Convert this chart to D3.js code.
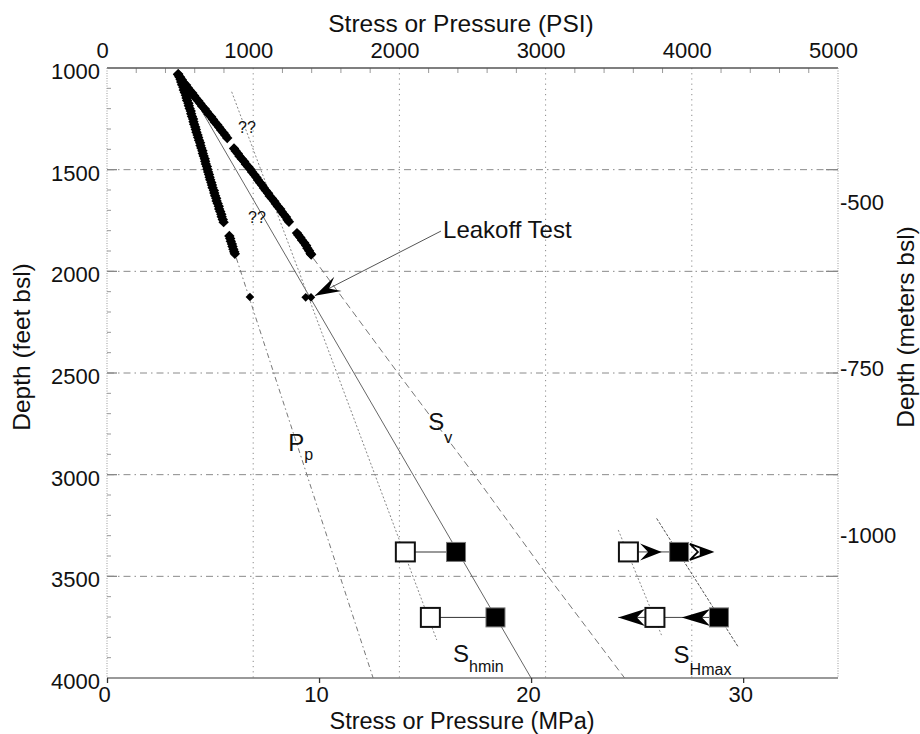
<!DOCTYPE html>
<html>
<head>
<meta charset="utf-8">
<script src="https://cdn.jsdelivr.net/npm/d3@7"></script>
<style>
  body { margin: 0; background: #fff; }
  svg text { font-family: "Liberation Sans", Arial, Helvetica, sans-serif; fill: #111; }
</style>
</head>
<body>
<svg id="chart" width="920" height="734"></svg>
<script>
// axis ticks
const psiTicks = [0, 1000, 2000, 3000, 4000, 5000];
const mpaTicks = [0, 10, 20, 30];
const feetTicks = [1000, 1500, 2000, 2500, 3000, 3500, 4000];
const meterTicks = [-500, -750, -1000];

// log points, [depth (ft), stress (MPa)]
const lowerTrend = [
  [1030,3.36],[1043,3.41],[1056,3.47],[1069,3.50],[1082,3.54],[1095,3.60],[1108,3.62],[1121,3.67],
  [1134,3.72],[1147,3.75],[1160,3.78],[1173,3.84],[1186,3.86],[1199,3.90],[1212,3.95],[1225,3.97],
  [1238,4.01],[1251,4.06],[1264,4.08],[1277,4.11],[1290,4.16],[1303,4.19],[1316,4.22],[1329,4.27],
  [1342,4.30],[1355,4.34],[1368,4.39],[1381,4.41],[1394,4.45],[1407,4.50],[1420,4.52],[1433,4.56],
  [1446,4.61],[1459,4.63],[1472,4.66],[1485,4.71],[1498,4.73],[1511,4.77],[1524,4.81],[1537,4.84],
  [1550,4.87],[1563,4.92],[1576,4.95],[1589,4.98],[1602,5.04],[1615,5.06],[1628,5.10],[1641,5.15],
  [1654,5.17],[1667,5.22],[1680,5.27],[1693,5.29],[1706,5.34],[1719,5.39],[1732,5.41],[1745,5.46],
  [1758,5.50],
  [1826,5.77],[1839,5.81],[1852,5.84],[1865,5.89],[1878,5.92],[1891,5.96],[1904,6.00],[1914,6.03]
];
const upperTrend = [
  [1032,3.35],[1045,3.45],[1058,3.53],[1071,3.61],[1084,3.73],[1097,3.81],[1110,3.90],[1123,4.02],
  [1136,4.11],[1149,4.19],[1162,4.31],[1175,4.40],[1188,4.49],[1201,4.61],[1214,4.70],[1227,4.79],
  [1240,4.91],[1253,5.00],[1266,5.08],[1279,5.20],[1292,5.29],[1305,5.38],[1318,5.49],[1331,5.58],
  [1344,5.67],
  [1396,5.99],[1408,6.07],[1421,6.17],[1434,6.25],[1447,6.36],[1460,6.47],[1473,6.55],[1486,6.66],[1499,6.77],
  [1512,6.84],[1525,6.95],[1538,7.05],[1551,7.12],[1564,7.22],[1577,7.32],[1590,7.40],[1603,7.49],
  [1616,7.60],[1629,7.67],[1642,7.78],[1655,7.89],[1668,7.96],[1681,8.06],[1694,8.17],[1707,8.24],
  [1720,8.34],[1733,8.44],[1746,8.51],[1756,8.58],
  [1812,8.96],[1821,9.02],[1834,9.12],[1847,9.20],[1860,9.30],[1873,9.39],[1886,9.45],[1899,9.53],[1912,9.60],[1917,9.63]
];
const isolatedPoint = [[2126, 6.74]];
const leakoffPoints = [[2128, 9.37], [2128, 9.62]];

// interpreted profiles, [depth (ft), stress (MPa)]
const ppLine = [[1935, 6.10], [4000, 12.55]];
const svLine = [[1936, 9.73], [2500, 13.72], [2961, 17.04], [3502, 20.81], [4000, 24.41]];
const shminUpper = [[1197, 4.39], [4000, 20.0]];
const shminLower = [[1117, 5.88], [3813, 15.55]];
const shmaxLow = [[3272, 24.11], [3789, 26.15]];
const shmaxHigh = [[3215, 25.92], [3846, 29.76]];

// stress estimates at two depths (MPa)
const estDepths = [3380, 3702];
const shminMin = [14.07, 15.25];
const shminMax = [16.46, 18.32];
const shmaxMin = [24.59, 25.84];
const shmaxMax = [26.98, 28.86];
// [depth, tail, tip]
const shmaxArrows = [[3380, 25.14, 26.16], [3380, 27.49, 28.52], [3702, 25.37, 24.11], [3702, 28.44, 27.10]];

const svg = d3.select("#chart");
const plotLeft = 107, plotRight = 838, plotTop = 68, plotBottom = 678;

const x = d3.scaleLinear().domain([0, 5000 / 145.038]).range([plotLeft, plotRight]);
const xPsi = d3.scaleLinear().domain([0, 5000]).range([plotLeft, plotRight]);
const y = d3.scaleLinear().domain([1000, 4000]).range([plotTop, plotBottom]);
const yM = d3.scaleLinear().domain([-1000 * 0.3048, -4000 * 0.3048]).range([plotTop, plotBottom]);

// grid
svg.append("g").selectAll("line")
  .data(psiTicks.slice(1, -1))
  .enter().append("line")
    .attr("x1", d => xPsi(d)).attr("x2", d => xPsi(d))
    .attr("y1", plotTop).attr("y2", plotBottom)
    .attr("stroke", "#8a8a8a").attr("stroke-width", 1)
    .attr("stroke-dasharray", "1.2,4");

svg.append("g").selectAll("line")
  .data(feetTicks.slice(1, -1))
  .enter().append("line")
    .attr("x1", plotLeft).attr("x2", plotRight)
    .attr("y1", d => y(d)).attr("y2", d => y(d))
    .attr("stroke", "#8a8a8a").attr("stroke-width", 1)
    .attr("stroke-dasharray", "7,4,1.5,4");

// minor ticks
const minorFeet = d3.range(1100, 4000, 100).filter(d => d % 500 !== 0);
svg.append("g").selectAll("line")
  .data(minorFeet)
  .enter().append("line")
    .attr("x1", plotLeft).attr("x2", plotLeft + 4)
    .attr("y1", d => y(d)).attr("y2", d => y(d))
    .attr("stroke", "#999");
svg.append("g").selectAll("line")
  .data(feetTicks.slice(1, -1))
  .enter().append("line")
    .attr("x1", plotLeft).attr("x2", plotLeft + 10)
    .attr("y1", d => y(d)).attr("y2", d => y(d))
    .attr("stroke", "#888").attr("stroke-width", 1.3);
svg.append("g").selectAll("line")
  .data(feetTicks.slice(1, -1))
  .enter().append("line")
    .attr("x1", plotRight - 12).attr("x2", plotRight)
    .attr("y1", d => y(d)).attr("y2", d => y(d))
    .attr("stroke", "#888").attr("stroke-width", 1.3);
const minorPsi = d3.range(200, 5000, 200).filter(d => d % 1000 !== 0);
svg.append("g").selectAll("line")
  .data(minorPsi)
  .enter().append("line")
    .attr("x1", d => xPsi(d)).attr("x2", d => xPsi(d))
    .attr("y1", plotTop).attr("y2", plotTop + 5)
    .attr("stroke", "#999");

// frame
svg.append("line").attr("x1", plotLeft).attr("x2", plotRight).attr("y1", plotTop).attr("y2", plotTop)
  .attr("stroke", "#555").attr("stroke-width", 1.4);
svg.append("line").attr("x1", plotLeft).attr("x2", plotRight).attr("y1", plotBottom).attr("y2", plotBottom)
  .attr("stroke", "#777").attr("stroke-width", 1.6);
svg.append("line").attr("x1", plotLeft).attr("x2", plotLeft).attr("y1", plotTop).attr("y2", plotBottom)
  .attr("stroke", "#999").attr("stroke-dasharray", "1,1.5");
svg.append("line").attr("x1", plotRight).attr("x2", plotRight).attr("y1", plotTop).attr("y2", plotBottom)
  .attr("stroke", "#999").attr("stroke-dasharray", "1,1.5");

// axes
const fmt = d3.format("d");
const topAxis = svg.append("g")
  .attr("transform", "translate(0," + plotTop + ")")
  .call(d3.axisTop(xPsi).tickValues(psiTicks).tickSize(0).tickPadding(10).tickFormat(fmt));
topAxis.selectAll("text").attr("dx", -5);

const bottomAxis = svg.append("g")
  .attr("transform", "translate(0," + plotBottom + ")")
  .call(d3.axisBottom(x).tickValues(mpaTicks).tickSize(5).tickPadding(3).tickFormat(fmt));
bottomAxis.selectAll("line").attr("stroke", "#333").attr("stroke-width", 1.3);
bottomAxis.selectAll("text").attr("dx", -3);

const leftAxis = svg.append("g")
  .attr("transform", "translate(" + plotLeft + ",0)")
  .call(d3.axisLeft(y).tickValues(feetTicks).tickSize(0).tickPadding(7).tickFormat(fmt));
leftAxis.selectAll("text").attr("dy", "0.47em");

const rightAxis = svg.append("g")
  .attr("transform", "translate(" + plotRight + ",0)")
  .call(d3.axisRight(yM).tickValues(meterTicks).tickSize(0).tickPadding(2)
    .tickFormat(d => "-" + Math.abs(d)));
rightAxis.selectAll("text").attr("dy", "0.5em");

svg.selectAll(".domain").remove();
svg.selectAll(".tick text").style("font-size", "22px").attr("fill", "#111");

// titles
svg.append("text").attr("x", 461).attr("y", 32).attr("text-anchor", "middle")
  .style("font-size", "24.5px").text("Stress or Pressure (PSI)");
svg.append("text").attr("x", 462).attr("y", 728.8).attr("text-anchor", "middle")
  .style("font-size", "23.5px").text("Stress or Pressure (MPa)");
svg.append("text").attr("transform", "translate(30,347) rotate(-90)").attr("text-anchor", "middle")
  .style("font-size", "24.5px").text("Depth (feet bsl)");
svg.append("text").attr("transform", "translate(914,327) rotate(-90)").attr("text-anchor", "middle")
  .style("font-size", "24.5px").text("Depth (meters bsl)");

// profile lines
const line = d3.line().x(d => x(d[1])).y(d => y(d[0]));
svg.append("path").attr("d", line(ppLine)).attr("fill", "none")
  .attr("stroke", "#777").attr("stroke-dasharray", "5,3,1.5,3");
svg.append("path").attr("d", line(svLine)).attr("fill", "none")
  .attr("stroke", "#777").attr("stroke-dasharray", "7,4");
svg.append("path").attr("d", line(shminUpper)).attr("fill", "none")
  .attr("stroke", "#555").attr("stroke-width", 0.9);
svg.append("path").attr("d", line(shminLower)).attr("fill", "none")
  .attr("stroke", "#888").attr("stroke-dasharray", "2,2");
svg.append("path").attr("d", line(shmaxLow)).attr("fill", "none")
  .attr("stroke", "#888").attr("stroke-dasharray", "2,2");
svg.append("path").attr("d", line(shmaxHigh)).attr("fill", "none")
  .attr("stroke", "#555").attr("stroke-dasharray", "3,1.5");

// log points
function diamond(r) { return "M0," + (-r) + "L" + r + ",0L0," + r + "L" + (-r) + ",0Z"; }
svg.append("g").selectAll("path")
  .data(lowerTrend.concat(upperTrend))
  .enter().append("path")
    .attr("d", diamond(5.2))
    .attr("transform", d => "translate(" + x(d[1]) + "," + y(d[0]) + ")")
    .attr("fill", "#000");
svg.append("g").selectAll("path")
  .data(isolatedPoint.concat(leakoffPoints))
  .enter().append("path")
    .attr("d", diamond(4.3))
    .attr("transform", d => "translate(" + x(d[1]) + "," + y(d[0]) + ")")
    .attr("fill", "#000");

// connectors between estimates
estDepths.forEach((dep, i) => {
  svg.append("line")
    .attr("x1", x(shminMin[i])).attr("x2", x(shminMax[i]))
    .attr("y1", y(dep)).attr("y2", y(dep))
    .attr("stroke", i === 0 ? "#999" : "#333").attr("stroke-width", i === 0 ? 2 : 1);
  svg.append("line")
    .attr("x1", x(i === 0 ? shmaxMin[i] : shmaxArrows[2][2])).attr("x2", x(shmaxMax[i]))
    .attr("y1", y(dep)).attr("y2", y(dep))
    .attr("stroke", "#444").attr("stroke-width", 1);
});

// arrows on SHmax
function chevron(len, half, notch) {
  return "M0,0L" + (-len) + "," + (-half) + "L" + (-len + notch) + ",0L" + (-len) + "," + half + "Z";
}
shmaxArrows.forEach((a, i) => {
  const dir = a[2] > a[1] ? 0 : 180;
  const g = svg.append("g")
    .attr("transform", "translate(" + x(a[2]) + "," + y(a[0]) + ") rotate(" + dir + ")");
  const len = Math.abs(x(a[2]) - x(a[1]));
  if (i === 1) {
    g.append("path").attr("d", chevron(len, 8, 8)).attr("fill", "#fff")
      .attr("stroke", "#000").attr("stroke-width", 1.8);
    g.append("path").attr("d", "M0,0L-12,-4.5L-12,4.5Z").attr("fill", "#000");
  } else {
    g.append("path").attr("d", chevron(len, 8.5, 8)).attr("fill", "#000");
  }
});

// squares
const sq = 19;
function squares(vals, filled) {
  svg.append("g").selectAll("rect")
    .data(vals.map((v, i) => [estDepths[i], v]))
    .enter().append("rect")
      .attr("x", d => x(d[1]) - sq / 2).attr("y", d => y(d[0]) - sq / 2)
      .attr("width", sq).attr("height", sq)
      .attr("fill", filled ? "#000" : "#fff")
      .attr("stroke", filled ? "#777" : "#111")
      .attr("stroke-width", filled ? 1 : 2);
}
squares(shminMin, false);
squares(shminMax, true);
squares(shmaxMin, false);
squares(shmaxMax, true);

// leakoff annotation
const tipX = x(9.8), tipY = y(2120), startX = x(15.75), startY = y(1802);
svg.append("line").attr("x1", startX).attr("y1", startY).attr("x2", tipX).attr("y2", tipY)
  .attr("stroke", "#555").attr("stroke-width", 1);
const ang = Math.atan2(tipY - startY, tipX - startX) * 180 / Math.PI;
svg.append("path").attr("d", chevron(26, 8, 10))
  .attr("transform", "translate(" + tipX + "," + tipY + ") rotate(" + ang + ")")
  .attr("fill", "#000");
svg.append("text").attr("x", x(15.85)).attr("y", y(1836))
  .style("font-size", "24px").text("Leakoff Test");

// uncertain extrapolation labels
svg.append("text").attr("x", x(6.18)).attr("y", y(1320)).style("font-size", "16px").text("??");
svg.append("text").attr("x", x(6.65)).attr("y", y(1762)).style("font-size", "16px").text("??");

// curve labels
function subLabel(px, py, main, sub, dy) {
  const t = svg.append("text").attr("x", px).attr("y", py).style("font-size", "24px");
  t.append("tspan").text(main);
  t.append("tspan").attr("dy", dy).style("font-size", "16px").text(sub);
}
subLabel(x(8.55), y(2884), "P", "p", 9);
subLabel(x(15.15), y(2780), "S", "v", 13);
subLabel(x(16.32), y(3920), "S", "hmin", 10);
subLabel(x(26.72), y(3928), "S", "Hmax", 11.5);
</script>
</body>
</html>
